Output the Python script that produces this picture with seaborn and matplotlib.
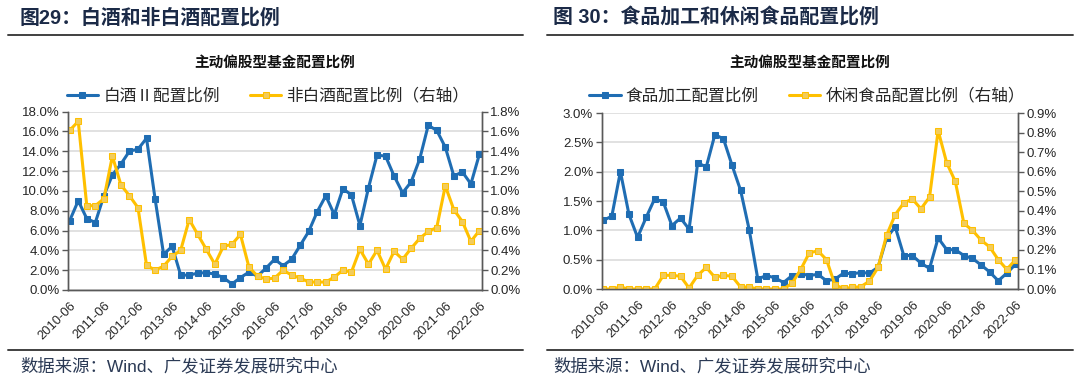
import numpy as np
import matplotlib
matplotlib.use("Agg")
import matplotlib.pyplot as plt
import seaborn as sns
from matplotlib.lines import Line2D
from matplotlib.ticker import FuncFormatter

# quarterly data, 2010-06 .. 2022-06 (49 points), values in %
year_labels = ["2010-06", "2011-06", "2012-06", "2013-06", "2014-06", "2015-06", "2016-06",
               "2017-06", "2018-06", "2019-06", "2020-06", "2021-06", "2022-06"]

baijiu = [7.0, 9.0, 7.2, 6.8, 9.5, 11.6, 12.7, 14.0, 14.2, 15.3, 9.2, 3.6, 4.4, 1.5, 1.5,
          1.7, 1.75, 1.6, 1.25, 0.6, 1.25, 1.8, 1.4, 2.2, 3.1, 2.45, 3.1, 4.5, 5.9, 7.9,
          9.5, 7.6, 10.2, 9.6, 6.5, 10.3, 13.6, 13.5, 11.5, 9.8, 10.9, 13.2, 16.6, 16.1,
          14.4, 11.5, 11.9, 10.7, 13.7]
non_baijiu = [1.61, 1.70, 0.85, 0.85, 0.92, 1.35, 1.06, 0.95, 0.83, 0.25, 0.20, 0.24, 0.34,
              0.40, 0.71, 0.56, 0.41, 0.26, 0.44, 0.46, 0.56, 0.23, 0.14, 0.11, 0.12, 0.20,
              0.15, 0.12, 0.08, 0.08, 0.08, 0.13, 0.20, 0.18, 0.41, 0.26, 0.40, 0.21, 0.39,
              0.31, 0.42, 0.52, 0.59, 0.63, 1.05, 0.81, 0.69, 0.49, 0.60]

food_proc = [1.17, 1.24, 2.00, 1.27, 0.88, 1.22, 1.54, 1.48, 1.08, 1.21, 1.02, 2.15, 2.08,
             2.63, 2.56, 2.11, 1.68, 1.01, 0.17, 0.23, 0.19, 0.11, 0.23, 0.26, 0.23, 0.25,
             0.14, 0.17, 0.27, 0.26, 0.28, 0.27, 0.37, 0.87, 1.06, 0.57, 0.57, 0.44, 0.35,
             0.87, 0.67, 0.67, 0.57, 0.52, 0.41, 0.29, 0.14, 0.27, 0.42]
snack = [0.00, 0.00, 0.01, 0.00, 0.00, 0.00, 0.00, 0.07, 0.07, 0.065, 0.005, 0.07, 0.11,
         0.06, 0.07, 0.065, 0.01, 0.01, 0.00, 0.00, 0.00, 0.00, 0.03, 0.10, 0.185, 0.195,
         0.15, 0.02, 0.003, 0.008, 0.012, 0.04, 0.11, 0.275, 0.38, 0.44, 0.46, 0.41, 0.47,
         0.81, 0.645, 0.55, 0.335, 0.30, 0.25, 0.215, 0.15, 0.10, 0.15]

BLUE = "#1F6DB3"
YELLOW = "#FFC000"
NAVY = "#1B2A47"
CJK = ["Liberation Sans", "Noto Sans CJK SC", "DejaVu Sans"]

sns.set_style("white")
plt.rcParams["font.family"] = CJK

fig = plt.figure(figsize=(10.8, 3.83), dpi=100)


def draw_panel(rect, left_vals, right_vals, left_name, right_name,
               left_max, left_step, right_max, right_step, fmt_l, fmt_r, leg_xy):
    ax = fig.add_axes(rect)
    ax2 = ax.twinx()
    x = np.arange(len(left_vals))
    sns.lineplot(x=x, y=left_vals, ax=ax, color=BLUE, lw=2.2, marker="s", markersize=4.3,
                 markeredgecolor=BLUE, label=left_name)
    sns.lineplot(x=x, y=right_vals, ax=ax2, color=YELLOW, lw=2.2, marker="s", markersize=4.3,
                 markerfacecolor="#F2CC5C", markeredgecolor=YELLOW, label=right_name)

    ax.set_xlim(-0.2, len(x) - 0.7)
    ax.set_ylim(0, left_max)
    ax2.set_ylim(0, right_max)
    ax.set_yticks(np.arange(0, left_max + 1e-9, left_step))
    ax2.set_yticks(np.arange(0, right_max + 1e-9, right_step))
    ax.yaxis.set_major_formatter(FuncFormatter(lambda v, p: fmt_l % v))
    ax2.yaxis.set_major_formatter(FuncFormatter(lambda v, p: fmt_r % v))
    ax.set_xticks(np.arange(0, len(x), 4))
    ax.set_xticklabels(year_labels, rotation=45, ha="right", rotation_mode="anchor")
    ax.set_xlabel("")
    ax.set_ylabel("")
    ax2.set_ylabel("")

    ax.yaxis.grid(True, color="#D9D9D9", lw=1.1)
    ax.set_axisbelow(True)
    for a in (ax, ax2):
        a.spines["top"].set_visible(False)
        for s in ("left", "right", "bottom"):
            a.spines[s].set_color("#595959")
            a.spines[s].set_linewidth(1)
        a.tick_params(direction="out", length=4, width=1, color="#595959",
                      labelsize=9.5, labelcolor="#262626", pad=2)
    ax.tick_params(axis="x", labelsize=9.3, pad=3)

    h1, l1 = ax.get_legend_handles_labels()
    h2, l2 = ax2.get_legend_handles_labels()
    ax.get_legend().remove()
    ax2.get_legend().remove()
    fig.legend(h1 + h2, l1 + l2, loc="center", bbox_to_anchor=leg_xy, ncol=2, frameon=False,
               prop={"family": ["Noto Sans CJK SC", "DejaVu Sans"], "size": 12},
               handlelength=1.9, handletextpad=0.3, columnspacing=1.8, borderaxespad=0)
    return ax


W, H = 1080, 383


def fx(px):
    return px / W


def fy(py):
    return 1 - py / H


draw_panel([fx(68), fy(290), fx(482 - 68), (290 - 111.5) / H], baijiu, non_baijiu,
           "白酒Ⅱ配置比例", "非白酒配置比例（右轴）", 18, 2, 1.8, 0.2, "%.1f%%", "%.1f%%",
           (fx(268), fy(96)))
draw_panel([fx(601.5), fy(289), fx(1018 - 601.5), (289 - 113) / H], food_proc, snack,
           "食品加工配置比例", "休闲食品配置比例（右轴）", 3.0, 0.5, 0.9, 0.1, "%.1f%%", "%.1f%%",
           (fx(807), fy(96)))

# headers, titles, rules, sources
for x0, x1, head, src_x in ((8, 523, "图29：白酒和非白酒配置比例", 20),
                            (547, 1073, "图 30：食品加工和休闲食品配置比例", 553)):
    fig.text(fx(src_x), fy(18), head, fontsize=14.3, fontweight="bold", color=NAVY,
             va="center", ha="left")
    fig.add_artist(Line2D([fx(x0), fx(x1)], [fy(34.5), fy(34.5)], color="#404040", lw=1.4))
    fig.add_artist(Line2D([fx(x0), fx(x1)], [fy(350), fy(350)], color="#404040", lw=1.4))
    fig.text(fx(src_x), fy(366), "数据来源：Wind、广发证券发展研究中心", fontsize=12.5,
             color="#2B3A55", va="center", ha="left")

fig.text(fx(275), fy(63), "主动偏股型基金配置比例", fontsize=10.5, fontweight="bold",
         color="#111111", ha="center", va="center")
fig.text(fx(810), fy(63), "主动偏股型基金配置比例", fontsize=10.5, fontweight="bold",
         color="#111111", ha="center", va="center")

fig.savefig("out.png", dpi=100)
